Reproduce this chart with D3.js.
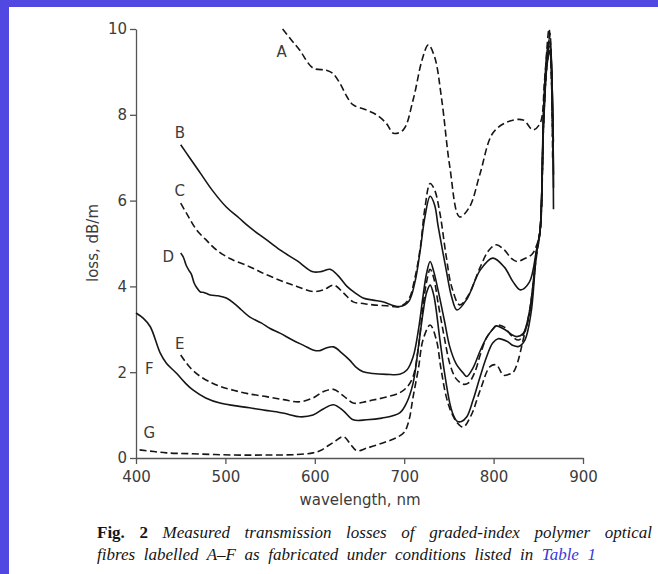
<!DOCTYPE html>
<html><head><meta charset="utf-8">
<script src="https://cdn.jsdelivr.net/npm/d3@7"></script>
<style>
html,body{margin:0;padding:0;background:#fff;}
svg{display:block;}
</style></head>
<body>
<svg id="chart" width="658" height="574"></svg>
<script>
// ---- data ----
const xTicks = [400, 500, 600, 700, 800, 900];
const yTicks = [0, 2, 4, 6, 8, 10];
const xTitle = "wavelength, nm";
const yTitle = "loss, dB/m";

const wlA = [564,574,583,598,613,620,628,636,643,658,669,680,688,699,710,720,727,734,742,751,762,773,785,799,815,833,844,852,857,862,865,867];
const lossA = [10.0,9.74,9.51,9.09,9.04,8.97,8.74,8.42,8.23,8.11,8.0,7.8,7.57,7.65,8.35,9.28,9.63,9.35,8.35,6.79,5.62,5.85,6.64,7.57,7.83,7.88,7.65,7.8,8.8,10.0,8.6,7.3];

const wlB = [450,460,472,485,501,515,527,545,561,580,598,608,617,626,636,645,654,665,676,695,705,712,718,723,729,734,738,747,753,759,770,785,799,812,822,830,840,848,852,856,860,863,867];
const lossB = [7.3,7.0,6.64,6.25,5.85,5.6,5.38,5.1,4.85,4.6,4.34,4.35,4.4,4.25,4.0,3.85,3.73,3.68,3.64,3.53,3.65,4.1,4.85,5.6,6.1,5.9,5.4,4.38,3.76,3.45,3.7,4.38,4.66,4.45,4.1,3.92,4.1,4.85,5.3,8.2,9.5,9.8,5.8];

const wlC = [450,458,468,480,490,505,527,545,565,580,598,610,621,632,643,654,665,680,695,705,712,718,723,729,734,740,747,753,762,772,785,795,803,812,820,826,835,843,848,852,856,860,863,866];
const lossC = [5.94,5.65,5.31,5.05,4.85,4.65,4.46,4.28,4.11,4.0,3.88,3.92,4.03,3.85,3.64,3.6,3.57,3.55,3.53,3.7,4.2,4.9,5.8,6.4,6.25,5.7,4.7,4.0,3.57,3.8,4.45,4.85,4.97,4.85,4.65,4.58,4.65,4.75,4.95,5.3,8.0,9.3,9.9,7.5];

const wlD = [450,453,456,459,462,465,468,472,476,483,492,501,510,518,527,540,550,561,575,588,598,605,612,621,630,639,646,654,665,680,695,703,710,716,721,725,729,733,738,745,751,758,766,770,777,785,792,799,803,812,820,826,833,840,848,852,856,860,863,867];
const lossD = [4.78,4.68,4.5,4.38,4.28,4.08,3.97,3.87,3.86,3.8,3.78,3.73,3.6,3.45,3.29,3.15,3.02,2.91,2.75,2.62,2.52,2.5,2.56,2.59,2.45,2.28,2.12,2.01,1.97,1.95,1.95,2.05,2.36,3.0,3.76,4.3,4.58,4.35,3.9,3.2,2.59,2.2,1.98,1.9,2.1,2.5,2.8,3.0,3.08,3.0,2.88,2.83,2.9,3.4,4.8,5.3,8.0,9.4,9.7,6.3];

const wlE = [450,460,472,485,495,509,525,546,565,583,598,610,621,632,643,654,665,680,695,703,710,716,721,725,729,733,738,745,751,758,766,772,779,785,792,799,804,812,820,828,835,842,848,852,856,860,863,866];
const lossE = [2.4,2.12,1.9,1.75,1.66,1.58,1.5,1.43,1.36,1.31,1.4,1.55,1.6,1.45,1.28,1.3,1.35,1.42,1.52,1.65,1.9,2.6,3.53,4.1,4.4,4.2,3.6,2.8,2.2,1.85,1.72,1.75,2.0,2.4,2.8,3.0,3.1,3.05,2.85,2.75,2.95,3.6,4.8,5.3,7.8,9.2,9.5,7.0];

const wlF = [400,408,416,427,434,445,455,464,478,494,510,527,545,557,570,583,598,610,621,632,643,658,675,695,703,710,716,721,725,729,733,740,745,751,755,759,764,770,777,785,792,799,805,815,822,828,835,842,848,852,856,860,863,867];
const lossF = [3.38,3.26,3.06,2.45,2.21,1.98,1.75,1.58,1.4,1.28,1.22,1.17,1.11,1.08,1.02,0.96,1.0,1.15,1.24,1.1,0.89,0.89,0.93,1.05,1.3,1.75,2.6,3.38,3.85,4.03,3.8,2.75,2.0,1.28,1.0,0.86,0.85,0.96,1.35,1.9,2.35,2.68,2.78,2.72,2.62,2.6,2.75,3.4,4.8,5.3,7.9,9.3,9.6,6.6];

const wlG = [404,420,434,460,509,550,580,598,607,613,622,632,640,647,658,676,691,700,705,710,716,721,729,736,741,747,753,759,766,775,785,796,803,811,817,822,827,833,840,848,852,856,860,863,866];
const lossG = [0.19,0.15,0.12,0.1,0.07,0.07,0.08,0.12,0.18,0.26,0.38,0.5,0.32,0.17,0.23,0.35,0.47,0.6,0.85,1.43,2.1,2.75,3.1,2.75,2.1,1.43,1.05,0.83,0.72,1.0,1.58,2.13,2.17,1.93,1.95,2.0,2.24,2.75,3.4,4.7,5.3,7.8,9.2,9.5,7.5];

const seriesNames = ["A","B","C","D","E","F","G"];
const seriesDashed = [true,false,true,false,true,false,true];
// label anchors in data units (wavelength, loss)
const labelWl = [563,449,449,436,449,415,415];
const labelLoss = [9.47,7.58,6.23,4.69,2.67,2.09,0.59];

const captionBold = "Fig. 2";
const captionLine1 = "Measured transmission losses of graded-index polymer optical";
const captionLine2 = "fibres labelled A\u2013F as fabricated under conditions listed in";
const captionLink = "Table 1";

// ---- drawing ----
const svg = d3.select("#chart");
svg.append("rect").attr("x",0).attr("y",0).attr("width",658).attr("height",574).attr("fill","#fff");
svg.append("rect").attr("x",0).attr("y",0).attr("width",658).attr("height",7).attr("fill","#5048E0");
svg.append("rect").attr("x",0).attr("y",0).attr("width",9).attr("height",574).attr("fill","#5048E0");

const x = d3.scaleLinear().domain([400,900]).range([136,583]);
const y = d3.scaleLinear().domain([0,10]).range([458,29]);

const axisFont = "'DejaVu Sans', sans-serif";
const ink = "#3c3c3c";

const gx = svg.append("g").attr("transform","translate(0,458)")
  .call(d3.axisBottom(x).tickValues(xTicks).tickSize(6).tickSizeOuter(0).tickFormat(d3.format("d")));
const gy = svg.append("g").attr("transform","translate(136,0)")
  .call(d3.axisLeft(y).tickValues(yTicks).tickSize(6).tickSizeOuter(0).tickFormat(d3.format("d")));
[gx,gy].forEach(g=>{
  g.select(".domain").attr("stroke","#555").attr("stroke-width",1.3);
  g.selectAll(".tick line").attr("stroke","#555").attr("stroke-width",1.3);
  g.selectAll(".tick text").attr("fill",ink).style("font-family",axisFont).style("font-size","15px");
});
gx.selectAll(".tick text").attr("y",13);
gy.selectAll(".tick text").attr("x",-9);

svg.append("text").attr("x",360).attr("y",505).attr("text-anchor","middle")
  .style("font-family",axisFont).style("font-size","15px").attr("fill",ink).text(xTitle);
svg.append("text").attr("transform","translate(98,243) rotate(-90)").attr("text-anchor","middle")
  .style("font-family",axisFont).style("font-size","15px").attr("fill",ink).text(yTitle);

const wls = [wlA,wlB,wlC,wlD,wlE,wlF,wlG];
const losses = [lossA,lossB,lossC,lossD,lossE,lossF,lossG];
const line = d3.line().x(d=>x(d[0])).y(d=>y(d[1])).curve(d3.curveCatmullRom.alpha(0.5));

seriesNames.forEach((name,i)=>{
  const pts = wls[i].map((w,j)=>[w,losses[i][j]]);
  svg.append("path").datum(pts).attr("d",line)
    .attr("fill","none").attr("stroke","#161616").attr("stroke-width",1.6)
    .attr("stroke-linejoin","round")
    .attr("stroke-dasharray", seriesDashed[i] ? "7,3.5" : null);
  svg.append("text").attr("x",x(labelWl[i])).attr("y",y(labelLoss[i])).attr("dy","0.36em")
    .attr("text-anchor","middle").style("font-family",axisFont).style("font-size","15px")
    .attr("fill",ink).text(name);
});

// caption
const capFont = "'Liberation Serif', 'Times New Roman', serif";
function captionLine(yPos, parts, targetWidth){
  const t = svg.append("text").attr("x",97).attr("y",yPos)
    .style("font-family",capFont).style("font-size","17px").attr("fill","#151515");
  parts.forEach(p=>{
    t.append("tspan").text(p.text)
      .style("font-weight",p.bold?"bold":"normal")
      .style("font-style",p.italic?"italic":"normal")
      .attr("fill",p.color||"#151515");
  });
  const full = parts.map(p=>p.text).join("");
  const nSpaces = (full.match(/ /g)||[]).length;
  const w = t.node().getComputedTextLength();
  const ws = (targetWidth - w)/nSpaces;
  t.style("word-spacing", ws+"px");
}
captionLine(538, [{text:captionBold+" ",bold:true},{text:captionLine1,italic:true}], 555);
captionLine(560, [{text:captionLine2+" ",italic:true},{text:captionLink,italic:true,color:"#3a3ad8"}], 499);
</script>
</body></html>
